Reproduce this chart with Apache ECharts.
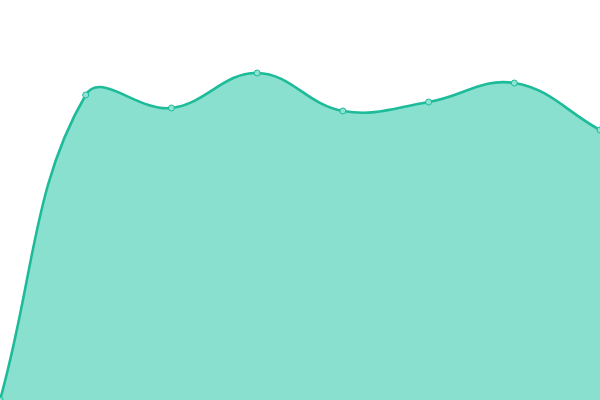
<!DOCTYPE html>
<html><head><meta charset="utf-8">
<script src="https://cdn.jsdelivr.net/npm/echarts@6/dist/echarts.min.js"></script>
<style>html,body{margin:0;padding:0;background:#fff}#c{width:600px;height:400px}</style>
</head><body><div id="c"></div>
<script>
const categories = ['1','2','3','4','5','6','7','8'];
const values = [0, 305, 292, 327, 289, 298, 317, 270];
const TENSION = 0.4;

function splineCps(prev, cur, next, t) {
  const d01 = Math.hypot(cur[0] - prev[0], cur[1] - prev[1]);
  const d12 = Math.hypot(next[0] - cur[0], next[1] - cur[1]);
  let s01 = d01 / (d01 + d12), s12 = d12 / (d01 + d12);
  if (isNaN(s01)) s01 = 0;
  if (isNaN(s12)) s12 = 0;
  const fa = t * s01, fb = t * s12;
  return {
    prev: [cur[0] - fa * (next[0] - prev[0]), cur[1] - fa * (next[1] - prev[1])],
    next: [cur[0] + fb * (next[0] - prev[0]), cur[1] + fb * (next[1] - prev[1])]
  };
}

function renderItem(params, api) {
  const idx = params.dataIndex;
  const pt = api.coord([idx, api.value(1)]);
  const children = [];
  if (idx === 0) {
    const pts = values.map((v, i) => api.coord([i, v]));
    const n = pts.length;
    const cps = pts.map((p, i) => splineCps(pts[Math.max(0, i - 1)], p, pts[Math.min(n - 1, i + 1)], TENSION));
    let d = 'M' + pts[0][0] + ' ' + pts[0][1];
    for (let i = 0; i < n - 1; i++) {
      const a = cps[i].next, b = cps[i + 1].prev, e = pts[i + 1];
      d += ' C' + a[0] + ' ' + a[1] + ' ' + b[0] + ' ' + b[1] + ' ' + e[0] + ' ' + e[1];
    }
    const base0 = api.coord([0, 0]), base1 = api.coord([n - 1, 0]);
    const area = d + ' L' + base1[0] + ' ' + base1[1] + ' L' + base0[0] + ' ' + base0[1] + ' Z';
    children.push({type: 'path', shape: {pathData: area}, style: {fill: '#89e0cf', stroke: null}});
    children.push({type: 'path', shape: {pathData: d}, style: {fill: null, stroke: '#1dbb9a', lineWidth: 2.6}});
  }
  children.push({type: 'circle', shape: {cx: pt[0], cy: pt[1], r: 3}, style: {fill: '#8fe3d2', stroke: '#1dbb9a', lineWidth: 1}, z2: 10});
  return {type: 'group', children: children};
}

const chart = echarts.init(document.getElementById('c'));
chart.setOption({
  animation: false,
  grid: {left: 0, right: 0, top: 0, bottom: 0},
  xAxis: {type: 'category', data: categories, boundaryGap: false, show: false},
  yAxis: {type: 'value', min: 0, max: 400, show: false},
  series: [{
    type: 'custom',
    renderItem: renderItem,
    data: values.map((v, i) => [i, v]),
    encode: {x: 0, y: 1},
    clip: false
  }]
});
</script></body></html>
